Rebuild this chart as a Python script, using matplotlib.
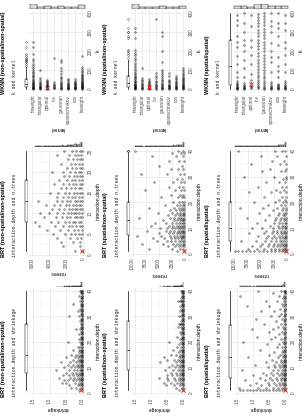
import matplotlib
matplotlib.use('Agg')
import matplotlib.pyplot as plt
import numpy as np

plt.rcParams['font.family'] = ['Liberation Sans', 'DejaVu Sans']

# ---------------- data ----------------
kernels = ['biweight', 'cos', 'epanechnikov', 'gaussian', 'inv', 'optimal', 'triangular', 'triweight']

# WKNN: k values per kernel (same order as kernels)
wknn_nn_nn = [
    [1, 3, 5, 8, 10, 12, 15, 18, 20, 24, 27, 30, 34, 38, 42, 46, 50, 55, 60, 66, 72, 80, 88, 95, 105, 118, 175],
    [1, 2, 4, 6, 9, 12, 15, 19, 23, 28, 33, 38, 44, 52],
    [1, 3, 5, 7, 10, 14, 18, 22, 27, 32, 38, 45, 52],
    [1, 3, 6, 9, 13, 18, 24, 30, 37, 45, 55, 65, 78, 92, 110, 140, 150],
    [2, 5, 9, 14, 20, 28, 35, 165],
    [1, 2, 3, 4, 6, 8, 10, 12, 15, 18, 22, 26, 30, 35, 40, 45],
    [1, 3, 5, 8, 11, 15, 19, 24, 30, 37, 45, 55, 100],
    [1, 3, 5, 7, 9, 12, 15, 18, 21, 25, 29, 33, 38, 43, 48, 54, 60, 67, 74, 82, 90, 100, 110, 120, 132, 145, 160, 185, 220, 245],
]
wknn_sp_nn = [
    [1, 3, 5, 8, 11, 14, 18, 22, 26, 30, 35, 40, 46, 52, 58, 65, 72, 80, 90, 100, 110],
    [1, 3, 5, 8, 12, 16, 20, 25, 30, 36, 42, 50, 58, 68],
    [1, 3, 6, 9, 13, 17, 22, 28, 34, 40, 48, 70, 82],
    [1, 3, 6, 10, 14, 19, 25, 32, 40, 48, 57, 66, 76, 88, 100, 140, 200, 280, 300],
    [1, 4, 8, 13, 19, 26, 34, 43, 55, 68, 82, 370],
    [1, 2, 4, 6, 9, 12, 16, 20, 25, 30, 36, 42, 50],
    [1, 3, 6, 9, 13, 18, 24, 31, 39, 48, 58, 110],
    [1, 2, 4, 6, 8, 10, 13, 16, 19, 22, 26, 30, 34, 39, 44, 50, 56, 63, 70, 78, 86, 95, 105, 115, 126, 138, 150, 163, 177, 192, 205, 270, 300, 320],
]
wknn_sp_sp = [
    [1, 3, 6, 10, 15, 22, 30, 40, 90, 130, 180, 215, 250, 310, 350, 390],
    [1, 2, 5, 9, 14, 20, 28, 60, 95, 120, 170, 230, 280, 320, 350, 400],
    [1, 3, 6, 10, 16, 24, 35, 90, 140, 170, 200, 240, 300, 330, 360, 400],
    [1, 5, 12, 20, 30, 42, 55, 70, 85, 100, 115, 130, 148, 165, 180, 200, 215, 232, 250, 268, 285, 300, 318, 335, 352, 370, 385, 400],
    [2, 8, 15, 25, 36, 48, 60, 75, 90, 105, 120, 138, 155, 172, 190, 208, 225, 242, 260, 278, 295, 312, 330, 347, 365, 382, 398],
    [2, 8, 15, 30, 45, 80, 130, 180, 220, 260, 330, 390],
    [1, 3, 6, 10, 15, 22, 30, 60, 110, 150, 200, 230, 260, 300, 350, 400],
    [1, 2, 4, 7, 10, 14, 19, 25, 32, 40, 60, 90, 130, 175, 220, 250, 280, 340, 365, 390],
]
wknn_best_k = [5, 10, 25]  # optimum (kernel = optimal)

# BRT interaction.depth vs n.trees : depth list + n.trees values per depth
ntr_nn_nn_depth = list(range(1, 26))
ntr_nn_nn = [
    [150, 900], [400, 2300], [300, 1200, 2600], [200, 700, 1500, 3100],
    [100, 500, 900, 1400, 2100, 3500], [150, 600, 1100, 1800, 2700, 4200],
    [100, 400, 800, 1300, 1700, 2400, 3300, 5200], [200, 500, 900, 1200, 1600, 2100, 2900, 3800, 5600],
    [100, 350, 700, 1000, 1500, 1900, 2500, 3200, 4600], [150, 450, 800, 1100, 1400, 1800, 2300, 3000, 4000, 5000],
    [100, 300, 650, 950, 1300, 1700, 2200, 2800, 3600], [200, 500, 800, 1200, 1600, 2000, 2700, 3400, 4400],
    [100, 400, 700, 1000, 1500, 1900, 2500, 3100, 5300], [150, 450, 900, 1300, 1800, 2400, 3000],
    [100, 350, 700, 1100, 1600, 2100, 2900, 3900], [200, 500, 900, 1400, 2000, 2600],
    [100, 400, 800, 1200, 1700, 2300, 3400], [150, 500, 900, 1300, 1900, 2800],
    [100, 350, 700, 1100, 1600, 2200], [200, 500, 1000, 1500, 2400, 3600],
    [100, 400, 800, 1300, 1900], [150, 500, 900, 1400, 2600], [100, 350, 700, 1200, 1800],
    [200, 600, 1000, 1600, 3000], [100, 400, 800, 1300, 2200],
]
ntr_sp_nn_depth = list(range(1, 21)) + [22, 23, 25, 26, 28, 29, 31, 33, 34, 36, 38, 39, 40]
ntr_sp_nn = [
    [200, 1500], [300, 900, 2500, 6800], [100, 500, 1100, 1800, 3200], [150, 450, 900, 1500, 2300, 4100, 8200],
    [100, 350, 700, 1200, 1800, 2600, 3500, 5400], [200, 500, 800, 1300, 1900, 2700, 3900, 6100],
    [100, 300, 600, 1000, 1500, 2100, 2900, 4600, 9200], [150, 400, 750, 1100, 1600, 2300, 3100, 5000],
    [100, 350, 650, 1000, 1400, 2000, 2800, 3700, 7300], [200, 500, 850, 1300, 1800, 2500, 3400, 4800],
    [100, 400, 700, 1100, 1600, 2200, 3000, 6500], [150, 450, 800, 1200, 1700, 2400, 3600, 5700],
    [100, 350, 650, 1000, 1500, 2100, 4200], [200, 500, 900, 1400, 2000, 2900, 8800],
    [100, 400, 800, 1200, 1800, 3300], [150, 450, 900, 1500, 2400, 5200], [100, 500, 1000, 1700, 2800],
    [200, 600, 1200, 2000, 6900], [100, 400, 900, 1600, 3800], [150, 500, 1100, 2300],
    [100, 600, 1400, 4500], [300, 900, 2600], [100, 700, 1800, 7600], [400, 1200, 3100],
    [200, 800, 2200, 5900], [500, 1500], [100, 900, 3500, 8400], [300, 1300, 2700], [600, 4900],
    [200, 1100, 3000], [400, 1700, 6300], [100, 800, 2400], [300, 1400, 9600],
]
ntr_sp_sp_depth = list(range(1, 23)) + [24, 25, 26, 28, 29, 30, 32, 33, 35, 36, 38, 40]
ntr_sp_sp = [
    [100, 500, 1000, 1600, 2300, 3000, 3800, 4600, 5400, 6200, 7000, 7800, 8600, 9400, 10000],
    [100, 300, 600, 1000, 1500, 2200, 3100, 4300, 5800, 7400], [150, 400, 800, 1300, 1900, 2700, 3700, 5100, 6700],
    [100, 350, 700, 1100, 1700, 2500, 3500, 4700], [200, 500, 900, 1400, 2100, 3000, 4200, 6000, 8800],
    [100, 400, 800, 1300, 2000, 2900, 4000], [150, 450, 850, 1500, 2400, 3600, 5500],
    [100, 350, 700, 1200, 1900, 2800, 4400, 7200], [200, 600, 1100, 1800, 2700, 3900],
    [100, 400, 900, 1600, 2600, 4800, 6600], [150, 500, 1000, 1700, 3200], [100, 450, 900, 1500, 2500, 5800],
    [200, 600, 1300, 2200, 4100], [100, 500, 1100, 2000, 7700], [300, 800, 1700, 3400], [100, 600, 1500, 5300],
    [200, 900, 2600], [100, 700, 1900, 4600, 9000], [400, 1200, 3600], [100, 800, 2300, 6200], [300, 1500],
    [100, 1000, 4300], [200, 1300, 3000, 7300], [500, 2000], [100, 900, 5600], [300, 1600, 3900], [100, 700],
    [200, 2500, 8200], [400, 1100, 4800], [100, 3300], [200, 1400, 6800], [600, 2800], [100, 1800, 5000],
    [300, 900, 2300, 9300],
]
ntr_best = [(1, 100), (1, 100), (1, 100)]  # (depth, n.trees)

# BRT interaction.depth vs shrinkage : shrinkage values per depth (depth 1..40)
shr_depth = list(range(1, 41))
shr_nn_nn = [
    [0.02, 0.1], [0.01, 0.05, 0.2, 0.35], [0.01, 0.03, 0.08, 0.15, 0.4], [0.01, 0.04, 0.1, 0.22, 0.5, 0.62],
    [0.01, 0.02, 0.06, 0.12, 0.2, 0.3, 0.45, 0.55], [0.01, 0.03, 0.07, 0.14, 0.25, 0.38, 0.7],
    [0.01, 0.02, 0.05, 0.1, 0.18, 0.28, 0.42, 0.6], [0.01, 0.03, 0.06, 0.12, 0.2, 0.33, 0.5],
    [0.01, 0.02, 0.05, 0.09, 0.16, 0.26, 0.4, 0.8], [0.01, 0.03, 0.07, 0.13, 0.22, 0.35, 0.55],
    [0.01, 0.02, 0.05, 0.1, 0.18, 0.3, 0.45], [0.01, 0.03, 0.06, 0.12, 0.2, 0.38, 0.65],
    [0.01, 0.02, 0.05, 0.09, 0.15, 0.28], [0.01, 0.03, 0.07, 0.13, 0.24, 0.5], [0.01, 0.02, 0.05, 0.1, 0.2, 0.35],
    [0.01, 0.03, 0.06, 0.12], [0.01, 0.02, 0.05, 0.1, 0.3], [0.01, 0.03, 0.07, 0.15], [0.01, 0.02, 0.06],
    [0.01, 0.03, 0.08, 0.45], [0.01, 0.02, 0.05, 0.12], [0.01, 0.03, 0.06], [0.01, 0.02, 0.1], [0.01, 0.03, 0.05],
    [0.01, 0.02, 0.07, 0.2], [0.01, 0.03, 0.04], [0.01, 0.02, 0.06], [0.01, 0.03, 0.09], [0.01, 0.02, 0.05],
    [0.01, 0.03, 0.1, 0.42], [0.01, 0.02, 0.06], [0.01, 0.03, 0.05, 0.15], [0.01, 0.02, 0.07], [0.01, 0.03, 0.04],
    [0.01, 0.02, 0.06, 0.3], [0.01, 0.03, 0.08], [0.01, 0.02, 0.05], [0.01, 0.03, 0.12], [0.01, 0.02, 0.06],
    [0.01, 0.03, 0.05, 0.09],
]
shr_sp_nn = [
    [0.02, 0.15], [0.01, 0.06, 0.25], [0.01, 0.03, 0.1, 0.3, 0.55], [0.01, 0.04, 0.12, 0.2, 0.4, 0.6],
    [0.01, 0.02, 0.07, 0.15, 0.28, 0.48], [0.01, 0.03, 0.08, 0.16, 0.3, 0.5, 0.75],
    [0.01, 0.02, 0.05, 0.11, 0.22, 0.36, 0.52], [0.01, 0.03, 0.06, 0.13, 0.25, 0.4],
    [0.01, 0.02, 0.05, 0.1, 0.19, 0.32, 0.58], [0.01, 0.03, 0.07, 0.14, 0.26, 0.44],
    [0.01, 0.02, 0.05, 0.11, 0.2, 0.35], [0.01, 0.03, 0.06, 0.12, 0.23, 0.72],
    [0.01, 0.02, 0.05, 0.1, 0.18, 0.3, 0.5], [0.01, 0.03, 0.07, 0.15, 0.62], [0.01, 0.02, 0.05, 0.1, 0.24, 0.4],
    [0.01, 0.03, 0.06, 0.14], [0.01, 0.02, 0.05, 0.12, 0.33], [0.01, 0.03, 0.08, 0.2], [0.01, 0.02, 0.06, 0.15],
    [0.01, 0.03, 0.07, 0.45], [0.01, 0.02, 0.05, 0.1], [0.01, 0.03, 0.06, 0.22], [0.01, 0.02, 0.08],
    [0.01, 0.03, 0.05, 0.13], [0.01, 0.02, 0.06], [0.01, 0.03, 0.09, 0.18], [0.01, 0.02, 0.04, 0.08, 0.12, 0.16],
    [0.01, 0.03, 0.07], [0.01, 0.02, 0.05], [0.01, 0.03, 0.08, 0.14], [0.01, 0.02, 0.06], [0.01, 0.03, 0.05, 0.1],
    [0.01, 0.02, 0.07], [0.01, 0.03, 0.04, 0.11], [0.01, 0.02, 0.06], [0.01, 0.03, 0.05, 0.09, 0.13, 0.17],
    [0.01, 0.02, 0.07], [0.01, 0.03, 0.05], [0.01, 0.02, 0.06], [0.01, 0.03, 0.05, 0.08],
]
shr_sp_sp = [
    [0.01, 0.1, 0.2, 0.3, 0.4, 0.5, 0.6, 0.7, 0.8, 0.9, 1.0, 1.1, 1.2, 1.3, 1.4],
    [0.01, 0.05, 0.12, 0.25, 0.4, 0.6, 0.85, 1.45], [0.01, 0.03, 0.08, 0.18, 0.3, 0.5, 0.75, 1.1],
    [0.01, 0.04, 0.1, 0.2, 0.35, 0.55, 0.9], [0.01, 0.02, 0.06, 0.14, 0.26, 0.42, 0.65, 1.25],
    [0.01, 0.03, 0.08, 0.16, 0.3, 0.48, 0.8], [0.01, 0.02, 0.05, 0.12, 0.22, 0.38, 0.6, 1.0],
    [0.01, 0.03, 0.07, 0.15, 0.28, 0.45, 0.7], [0.01, 0.02, 0.06, 0.13, 0.24, 0.4, 1.35],
    [0.01, 0.03, 0.08, 0.18, 0.33, 0.55], [0.01, 0.02, 0.05, 0.11, 0.2, 0.36, 0.95],
    [0.01, 0.03, 0.07, 0.15, 0.3, 0.62], [0.01, 0.02, 0.06, 0.14, 0.42], [0.01, 0.03, 0.09, 0.25, 1.15],
    [0.01, 0.02, 0.07, 0.18, 0.5], [0.01, 0.04, 0.12, 0.35], [0.01, 0.02, 0.08, 0.78], [0.01, 0.03, 0.1, 0.28],
    [0.01, 0.05, 0.2, 0.58], [0.01, 0.02, 0.09, 1.3], [0.01, 0.04, 0.15, 0.45], [0.01, 0.03, 0.32, 0.88],
    [0.01, 0.06, 0.22], [0.01, 0.02, 0.12, 0.52], [0.01, 0.04, 0.38, 1.05], [0.01, 0.08, 0.25],
    [0.01, 0.03, 0.15, 0.68], [0.01, 0.05, 0.3], [0.01, 0.02, 0.1, 0.9], [0.01, 0.06, 0.2, 0.45],
    [0.01, 0.03, 0.14], [0.01, 0.04, 0.35, 0.75], [0.01, 0.02, 0.18], [0.01, 0.07, 0.5, 1.2], [0.01, 0.03, 0.12],
    [0.01, 0.05, 0.28, 0.6], [0.01, 0.02, 0.09], [0.01, 0.04, 0.22, 1.4], [0.01, 0.03, 0.4],
    [0.01, 0.02, 0.06, 0.15, 0.85],
]
shr_best = [(1, 0.05), (1, 0.02), (1, 0.01)]  # (depth, shrinkage)

col_titles = ['non-spatial/non-spatial', 'spatial/non-spatial', 'spatial/spatial']

# ---------------- layout ----------------
W, H = 307, 419
fig = plt.figure(figsize=(W / 100, H / 100), dpi=100)
fig.patch.set_facecolor('white')


def rect(x0, y0, x1, y1):
    return [x0 / W, 1 - y1 / H, (x1 - x0) / W, (y1 - y0) / H]


col_x = [(29, 86), (131, 187), (233, 289)]
row_y = [(9, 93), (147, 256), (287, 396)]

TICK_FS = 3.3
LAB_FS = 3.6
TITLE_FS = 4.0
SUB_FS = 3.4


def flatten(depths, groups):
    d, v = [], []
    for dd, g in zip(depths, groups):
        for val in g:
            d.append(dd)
            v.append(val)
    return np.array(v, float), np.array(d, float)


def draw_panel(c, r, hv, vv, best, hlim, hticks, hlabels, hminor, vlim, vticks, vminor,
               hlabel, vlabel, title, subtitle, categorical=False):
    x0, x1 = col_x[c]
    y0, y1 = row_y[r]
    ax = fig.add_axes(rect(x0, y0, x1, y1))
    ax.set_facecolor('white')
    ax.scatter(hv, vv, s=2.0, facecolor=(0, 0, 0, 0.35), edgecolor=(0, 0, 0, 0.6), linewidth=0.25, zorder=3)
    ax.scatter([best[0]], [best[1]], marker='x', color='#ff2a2a', s=9, linewidth=0.7, zorder=4)
    ax.set_xlim(hlim)
    ax.set_ylim(vlim)
    ax.set_xticks(hticks)
    ax.set_xticklabels(hlabels, rotation=90, fontsize=TICK_FS, color='#4d4d4d')
    if hminor is not None:
        ax.set_xticks(hminor, minor=True)
    ax.yaxis.tick_right()
    ax.set_yticks(vticks)
    ax.set_yticklabels([str(t) for t in vticks], rotation=90, va='center', fontsize=TICK_FS, color='#4d4d4d')
    ax.set_yticks(vminor, minor=True)
    ax.tick_params(which='both', length=0, pad=1.2)
    ax.grid(True, which='major', color='#e6e6e6', linewidth=0.5)
    ax.grid(True, which='minor', color='#f2f2f2', linewidth=0.3)
    ax.set_axisbelow(True)
    for s in ax.spines.values():
        s.set_visible(False)
    ax.set_xlabel(hlabel, rotation=180, fontsize=LAB_FS, labelpad=1.5)
    ax.yaxis.set_label_position('right')
    ax.set_ylabel(vlabel, rotation=90, fontsize=LAB_FS, labelpad=2)

    # left marginal boxplot (vertical variable)
    axl = fig.add_axes(rect(x0 - 5, y0, x0 - 0.6, y1))
    axl.boxplot(vv, positions=[0.5], widths=0.7, whis=1.5, patch_artist=True,
                boxprops=dict(facecolor='white', edgecolor='black', linewidth=0.35),
                whiskerprops=dict(color='black', linewidth=0.5),
                capprops=dict(linewidth=0),
                medianprops=dict(color='black', linewidth=0.5),
                flierprops=dict(marker='o', markersize=1.2, markerfacecolor='none',
                                markeredgecolor='black', markeredgewidth=0.25))
    axl.set_ylim(vlim)
    axl.set_xlim(0, 1)
    axl.axis('off')
    # top marginal histogram (horizontal variable)
    axt = fig.add_axes(rect(x0, y0 - 5, x1, y0 - 0.4))
    if categorical:
        counts = [np.sum(hv == i) for i in range(len(kernels))]
        axt.bar(range(len(kernels)), counts, width=1.0, facecolor='#d9d9d9', edgecolor='black', linewidth=0.3)
    else:
        axt.hist(hv, bins=30, facecolor='#d9d9d9', edgecolor='black', linewidth=0.3)
    axt.set_xlim(hlim)
    axt.set_ylim(0, axt.get_ylim()[1] * 1.02)
    axt.axis('off')

    # titles (rotated, start at panel bottom)
    fb = 1 - (y1 + 1) / H
    fig.text((x0 - 25) / W, fb, title, rotation=90, ha='center', va='bottom',
             fontsize=TITLE_FS, fontweight='bold')
    fig.text((x0 - 14) / W, fb, subtitle, rotation=90, ha='center', va='bottom',
             fontsize=SUB_FS, family=['Liberation Mono', 'DejaVu Sans Mono'], color='#222222')


# Row 1: WKNN
for c, data in enumerate([wknn_nn_nn, wknn_sp_nn, wknn_sp_sp]):
    hv, vv = [], []
    for i, ks in enumerate(data):
        hv += [i] * len(ks)
        vv += ks
    hv = np.array(hv, float)
    vv = np.array(vv, float)
    draw_panel(c, 0, hv, vv, (kernels.index('optimal'), wknn_best_k[c]),
               (7.6, -0.6), list(range(8)), kernels, None,
               (-22, 422), [0, 100, 200, 300, 400], [50, 150, 250, 350],
               'kernel', 'k', 'WKNN (' + col_titles[c] + ')', 'k and kernel', categorical=True)

# Row 2: BRT n.trees
ntr_sets = [(ntr_nn_nn_depth, ntr_nn_nn), (ntr_sp_nn_depth, ntr_sp_nn), (ntr_sp_sp_depth, ntr_sp_sp)]
for c, (dep, grp) in enumerate(ntr_sets):
    hv, vv = flatten(dep, grp)
    if c == 0:
        hlim = (6350, -350)
        ht = [0, 2000, 4000, 6000]
        hm = [1000, 3000, 5000]
        vlim = (-0.3, 26)
        vt = [0, 5, 10, 15, 20, 25]
        vm = [2.5, 7.5, 12.5, 17.5, 22.5]
    else:
        hlim = (10300, -400)
        ht = [0, 2500, 5000, 7500, 10000]
        hm = [1250, 3750, 6250, 8750]
        vlim = (-0.8, 41.5)
        vt = [0, 10, 20, 30, 40]
        vm = [5, 15, 25, 35]
    draw_panel(c, 1, hv, vv, (ntr_best[c][1], ntr_best[c][0]),
               hlim, ht, [str(t) for t in ht], hm, vlim, vt, vm,
               'n.trees', 'interaction.depth', 'BRT (' + col_titles[c] + ')',
               'interaction.depth and n.trees')

# Row 3: BRT shrinkage
for c, grp in enumerate([shr_nn_nn, shr_sp_nn, shr_sp_sp]):
    hv, vv = flatten(shr_depth, grp)
    draw_panel(c, 2, hv, vv, (shr_best[c][1], shr_best[c][0]),
               (1.62, -0.1), [0, 0.5, 1.0, 1.5], ['0.0', '0.5', '1.0', '1.5'], [0.25, 0.75, 1.25],
               (-1.2, 41.5), [0, 10, 20, 30, 40], [5, 15, 25, 35],
               'shrinkage', 'interaction.depth', 'BRT (' + col_titles[c] + ')',
               'interaction.depth and shrinkage')

fig.savefig('out.png', dpi=100, facecolor='white')
